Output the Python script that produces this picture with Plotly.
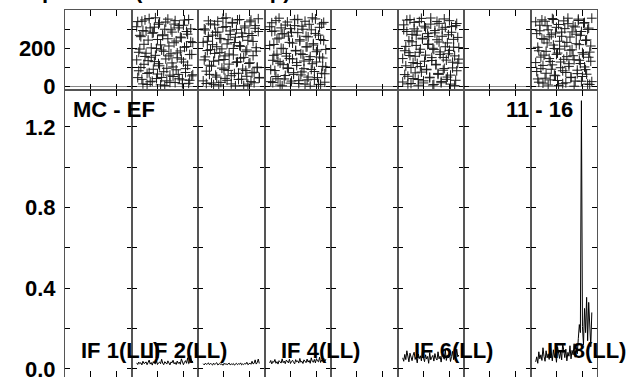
import plotly.graph_objects as go
from plotly.subplots import make_subplots

# ---------------- data ----------------
if_labels = ["IF 1(LL)", "IF 2(LL)", "IF 3(LL)", "IF 4(LL)", "IF 5(LL)", "IF 6(LL)", "IF 7(LL)", "IF 8(LL)"]
shown_labels = [1, 2, 4, 6, 8]
first_chan = 5
baseline_left = "MC - EF"
baseline_right = "11 - 16"
title_text = "Vector Spectrum (Phase & Amp)"

phase_if2 = [312, 45, 178, 267, 98, 341, 12, 220, 156, 289, 67, 134, 355, 23, 201, 278, 89, 310, 162, 40,
             245, 118, 333, 7, 190, 265, 76, 299, 143, 28, 352, 211, 58, 170, 284, 101, 326, 19, 237, 149,
             62, 318, 185, 254, 33, 127, 347, 92, 208, 273, 15, 166, 301, 54, 229, 138, 339, 81, 195, 260,
             36, 292, 115, 348, 173, 9, 242, 71, 306, 152, 26, 281, 129, 359, 198, 64, 325, 107, 217, 46,
             270, 183, 3, 337, 94, 249, 159, 20, 296, 122, 51, 228, 344, 86, 175, 306, 39, 258, 142, 13,
             320, 204, 72, 287, 110, 350, 31, 234, 167, 60]
phase_if3 = [28, 301, 154, 79, 236, 343, 110, 192, 17, 268, 131, 322, 58, 207, 284, 6, 176, 249, 95, 356,
             140, 41, 313, 222, 83, 169, 290, 12, 331, 198, 66, 257, 125, 348, 35, 213, 147, 279, 90, 3,
             306, 181, 52, 241, 119, 338, 24, 266, 160, 73, 318, 202, 97, 354, 43, 230, 138, 295, 14, 187,
             261, 62, 327, 105, 218, 8, 172, 283, 48, 341, 136, 251, 20, 196, 309, 87, 159, 359, 31, 244,
             116, 272, 55, 335, 164, 229, 2, 298, 128, 68, 350, 209, 37, 260, 151, 316, 82, 190, 11, 276,
             123, 347, 70, 235, 18, 304, 184, 100, 287, 46]
phase_if4 = [214, 87, 333, 19, 162, 290, 51, 248, 130, 357, 6, 199, 275, 113, 38, 321, 172, 96, 263, 145,
             302, 27, 226, 71, 349, 188, 124, 281, 14, 237, 59, 315, 166, 92, 341, 206, 33, 259, 140, 0,
             296, 118, 223, 77, 353, 181, 45, 268, 153, 10, 327, 104, 240, 65, 193, 312, 24, 287, 136, 219,
             82, 344, 168, 39, 253, 121, 306, 2, 197, 275, 56, 158, 337, 93, 230, 16, 283, 143, 62, 318,
             185, 109, 351, 29, 244, 170, 75, 299, 132, 11, 262, 207, 48, 325, 155, 88, 359, 216, 36, 277,
             127, 190, 8, 309, 245, 68, 148, 335, 21, 101]
phase_if6 = [145, 322, 61, 209, 287, 12, 176, 350, 98, 233, 40, 301, 157, 268, 119, 5, 339, 194, 74, 252,
             28, 315, 163, 86, 276, 221, 47, 358, 135, 199, 9, 292, 112, 244, 67, 330, 180, 18, 262, 151,
             93, 309, 36, 227, 170, 344, 58, 283, 126, 205, 3, 318, 81, 256, 142, 22, 297, 186, 107, 347,
             52, 239, 161, 14, 272, 124, 335, 70, 214, 289, 35, 178, 103, 356, 248, 17, 131, 306, 89, 219,
             261, 44, 326, 150, 6, 193, 280, 115, 340, 62, 232, 167, 25, 299, 84, 353, 207, 137, 48, 270,
             188, 11, 313, 96, 246, 159, 31, 329, 121, 203]
phase_if8 = [338, 77, 204, 21, 291, 153, 348, 109, 246, 42, 183, 317, 6, 259, 130, 89, 355, 216, 58, 279,
             167, 30, 324, 195, 97, 262, 13, 141, 302, 72, 230, 357, 118, 189, 47, 285, 160, 0, 311, 223,
             84, 345, 136, 267, 26, 176, 331, 101, 240, 63, 298, 152, 9, 211, 357, 124, 276, 38, 186, 320,
             92, 250, 16, 163, 341, 68, 227, 296, 145, 33, 270, 112, 350, 198, 55, 309, 174, 4, 236, 127,
             284, 81, 343, 210, 18, 155, 328, 104, 258, 45, 191, 316, 139, 27, 273, 66, 352, 218, 119, 287,
             51, 168, 334, 87, 243, 11, 305, 179, 131, 24]

amp_if2 = [0.030, 0.022, 0.034, 0.026, 0.031, 0.020, 0.038, 0.027, 0.029, 0.035, 0.021, 0.030, 0.044, 0.024,
           0.032, 0.019, 0.036, 0.028, 0.025, 0.041, 0.022, 0.030, 0.034, 0.026, 0.048, 0.029, 0.021, 0.036,
           0.031, 0.024, 0.040, 0.028, 0.020, 0.035, 0.030, 0.043, 0.025, 0.032, 0.022, 0.039, 0.027, 0.034,
           0.023, 0.050, 0.029, 0.021, 0.033, 0.041, 0.028, 0.055, 0.026, 0.031, 0.066, 0.030, 0.040]
amp_if3 = [0.026, 0.020, 0.028, 0.023, 0.025, 0.030, 0.021, 0.027, 0.024, 0.019, 0.029, 0.022, 0.026, 0.031,
           0.020, 0.024, 0.027, 0.022, 0.025, 0.018, 0.028, 0.023, 0.026, 0.021, 0.024, 0.029, 0.020, 0.025,
           0.022, 0.027, 0.019, 0.024, 0.028, 0.021, 0.026, 0.023, 0.030, 0.020, 0.025, 0.022, 0.027, 0.024,
           0.033, 0.021, 0.026, 0.029, 0.023, 0.038, 0.025, 0.028, 0.045, 0.024, 0.031, 0.049, 0.027]
amp_if4 = [0.030, 0.042, 0.025, 0.038, 0.033, 0.047, 0.028, 0.036, 0.024, 0.041, 0.035, 0.029, 0.050, 0.031,
           0.039, 0.026, 0.044, 0.034, 0.030, 0.048, 0.027, 0.037, 0.043, 0.032, 0.025, 0.046, 0.035, 0.040,
           0.029, 0.052, 0.033, 0.038, 0.027, 0.045, 0.036, 0.031, 0.049, 0.034, 0.042, 0.028, 0.055, 0.037,
           0.033, 0.047, 0.030, 0.051, 0.039, 0.035, 0.058, 0.032, 0.044, 0.038, 0.053, 0.036, 0.048]
amp_if6 = [0.055, 0.038, 0.072, 0.046, 0.090, 0.060, 0.035, 0.078, 0.052, 0.041, 0.068, 0.083, 0.047, 0.059,
           0.030, 0.074, 0.051, 0.065, 0.040, 0.088, 0.056, 0.036, 0.070, 0.049, 0.062, 0.028, 0.081, 0.045,
           0.058, 0.067, 0.039, 0.076, 0.053, 0.044, 0.085, 0.050, 0.063, 0.034, 0.071, 0.057, 0.048, 0.094,
           0.042, 0.066, 0.055, 0.079, 0.037, 0.061, 0.087, 0.046, 0.073, 0.052, 0.098, 0.060, 0.069]
amp_if8 = [0.035, 0.060, 0.028, 0.085, 0.050, 0.070, 0.042, 0.105, 0.062, 0.038, 0.090, 0.055, 0.075, 0.047,
           0.120, 0.066, 0.040, 0.095, 0.058, 0.080, 0.033, 0.110, 0.068, 0.052, 0.088, 0.045, 0.128, 0.072,
           0.056, 0.098, 0.040, 0.082, 0.063, 0.115, 0.050, 0.092, 0.070, 0.125, 0.058, 0.102, 0.075, 0.150,
           0.220, 0.180, 1.330, 0.210, 0.120, 0.300, 0.180, 0.355, 0.140, 0.330, 0.190, 0.110, 0.280]

phase_data = {2: phase_if2, 3: phase_if3, 4: phase_if4, 6: phase_if6, 8: phase_if8}
amp_data = {2: amp_if2, 3: amp_if3, 4: amp_if4, 6: amp_if6, 8: amp_if8}

top_ticks = [0, 100, 200, 300]
top_ticktext = ["0", "", "200", ""]
bot_ticks = [0, 0.2, 0.4, 0.6, 0.8, 1.0, 1.2]
bot_ticktext = ["0.0", "", "0.4", "", "0.8", "", "1.2"]
x_ticks = [25, 50]

# ---------------- figure ----------------
W, H = 632, 377
ML, MR, MT, MB = 65, 35, 10, 0
PW, PH = W - ML - MR, H - MT - MB
NCOL = 8

fig = make_subplots(rows=2, cols=NCOL, horizontal_spacing=0, vertical_spacing=0,
                    row_heights=[80, 287])

FONT = "Liberation Sans, Arial, sans-serif"
AXC = "#555555"

for k in range(1, NCOL + 1):
    if k in phase_data:
        ph = phase_data[k]
        n = len(ph) // 2
        chans = [first_chan + (i % n) for i in range(len(ph))]
        fig.add_trace(go.Scatter(x=chans, y=ph, mode="markers",
                                 marker=dict(symbol="cross-thin", size=7,
                                             line=dict(color="#1a1a1a", width=1)),
                                 showlegend=False, hoverinfo="skip"), row=1, col=k)
        am = amp_data[k]
        fig.add_trace(go.Scatter(x=[first_chan + i for i in range(len(am))], y=am,
                                 mode="lines", line=dict(color="black", width=1),
                                 showlegend=False, hoverinfo="skip"), row=2, col=k)
    else:
        for r in (1, 2):
            fig.add_trace(go.Scatter(x=[None], y=[None], mode="markers",
                                     showlegend=False, hoverinfo="skip"), row=r, col=k)
    for r in (1, 2):
        fig.update_xaxes(range=[0, 64], tickvals=x_ticks, ticks="inside", ticklen=6,
                         tickcolor="black", showticklabels=False, showline=True,
                         linecolor=AXC, linewidth=1, mirror="ticks", showgrid=False,
                         zeroline=False, automargin=False, row=r, col=k)
    fig.update_yaxes(range=[-20, 400], tickvals=top_ticks, ticktext=top_ticktext,
                     ticks="inside", ticklen=5, tickcolor="black",
                     showticklabels=(k == 1), showline=True, linecolor=AXC, linewidth=1,
                     mirror="ticks", showgrid=False, zeroline=True, zerolinecolor="#888888",
                     zerolinewidth=1, automargin=False, row=1, col=k)
    fig.update_yaxes(range=[-0.04, 1.383], tickvals=bot_ticks, ticktext=bot_ticktext,
                     ticks="inside", ticklen=5, tickcolor="black",
                     showticklabels=(k == 1), showline=True, linecolor=AXC, linewidth=1,
                     mirror="ticks", showgrid=False, zeroline=False, automargin=False,
                     row=2, col=k)

fig.update_yaxes(tickfont=dict(family=FONT, size=22, color="black", weight="bold"),
                 ticklabelstandoff=4, ticklabeloverflow="allow")


def px_x(px):
    return (px - ML) / PW


def px_y(py):
    return (H - MB - py) / PH


annots = []
colw = PW / NCOL
for k in shown_labels:
    annots.append(dict(text=if_labels[k - 1], xref="paper", yref="paper",
                       x=px_x(ML + (k - 1) * colw + 14), y=px_y(350),
                       xanchor="left", yanchor="middle", showarrow=False,
                       font=dict(family=FONT, size=22, color="black", weight="bold")))
annots.append(dict(text=baseline_left, xref="paper", yref="paper", x=px_x(71), y=px_y(109),
                   xanchor="left", yanchor="middle", showarrow=False,
                   font=dict(family=FONT, size=22, color="black", weight="bold")))
annots.append(dict(text=baseline_right, xref="paper", yref="paper", x=px_x(575), y=px_y(109),
                   xanchor="right", yanchor="middle", showarrow=False,
                   font=dict(family=FONT, size=22, color="black", weight="bold")))
annots.append(dict(text=title_text, xref="paper", yref="paper", x=px_x(293), y=px_y(5),
                   xanchor="right", yanchor="bottom", showarrow=False,
                   font=dict(family=FONT, size=22, color="black", weight="bold")))

fig.update_layout(width=W, height=H, margin=dict(l=ML, r=MR, t=MT, b=MB, pad=0, autoexpand=False),
                  paper_bgcolor="white", plot_bgcolor="white", annotations=annots,
                  showlegend=False)

fig.write_html("out.html", config={"displayModeBar": False},
               post_script="document.body.style.margin='0';document.body.style.overflow='hidden';")
